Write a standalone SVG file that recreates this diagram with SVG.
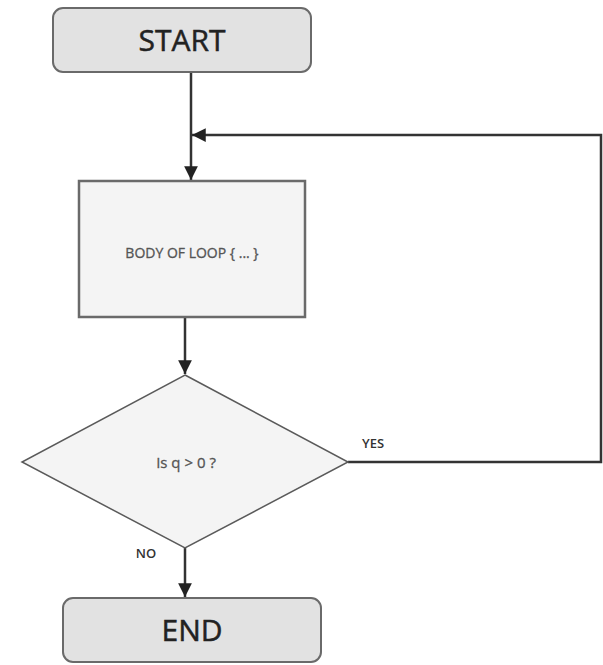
<svg xmlns="http://www.w3.org/2000/svg" width="603" height="665" viewBox="0 0 603 665">
  <style>
    .term { fill: #e2e2e2; stroke: #6a6a6a; stroke-width: 2; }
    .proc { fill: #f4f4f4; stroke: #6a6a6a; stroke-width: 2.5; }
    .dec { fill: #f4f4f4; stroke: #5a5a5a; stroke-width: 1.5; }
    .edge { fill: none; stroke: #333; stroke-width: 2.5; }
    .big { font-family: "Open Sans", "Liberation Sans", sans-serif; font-size: 30px; fill: #222; stroke: #222; stroke-width: 0.5; text-anchor: middle; }
    .mid { font-family: "Open Sans", "Liberation Sans", sans-serif; font-size: 14px; fill: #555; stroke: #555; stroke-width: 0.3; text-anchor: middle; }
    .lbl { font-family: "Open Sans", "Liberation Sans", sans-serif; font-size: 13px; font-weight: 600; fill: #333; text-anchor: middle; }
  </style>
  <defs>
    <marker id="arrow" viewBox="0 0 10 10" refX="10" refY="5" markerWidth="5.5" markerHeight="5.5" orient="auto" markerUnits="strokeWidth">
      <path d="M0,0 L10,5 L0,10 z" fill="#222"/>
    </marker>
  </defs>
  <rect width="603" height="665" fill="#fff"/>

  <g id="connectors">
    <line class="edge" x1="191" y1="72" x2="191" y2="180" marker-end="url(#arrow)"/>
    <polyline class="edge" points="348,462 601,462 601,135 192,135" marker-end="url(#arrow)"/>
    <line class="edge" x1="185" y1="318" x2="185" y2="374" marker-end="url(#arrow)"/>
    <line class="edge" x1="185" y1="548" x2="185" y2="597" marker-end="url(#arrow)"/>
  </g>

  <g id="start">
    <rect class="term" x="53" y="8" width="258" height="64" rx="10"/>
    <text class="big" x="182" y="51">START</text>
  </g>

  <g id="body">
    <rect class="proc" x="79" y="181" width="226" height="136"/>
    <text class="mid" x="192" y="258">BODY OF LOOP { ... }</text>
  </g>

  <g id="decision">
    <polygon class="dec" points="185,375 348,462 185,548 22,462"/>
    <text class="mid" x="186" y="468" style="font-size:15px">Is q &gt; 0 ?</text>
  </g>

  <g id="end">
    <rect class="term" x="63" y="598" width="258" height="64" rx="10"/>
    <text class="big" x="192" y="641">END</text>
  </g>

  <g id="labels">
    <text class="lbl" x="373" y="448">YES</text>
    <text class="lbl" x="146" y="558">NO</text>
  </g>
</svg>
